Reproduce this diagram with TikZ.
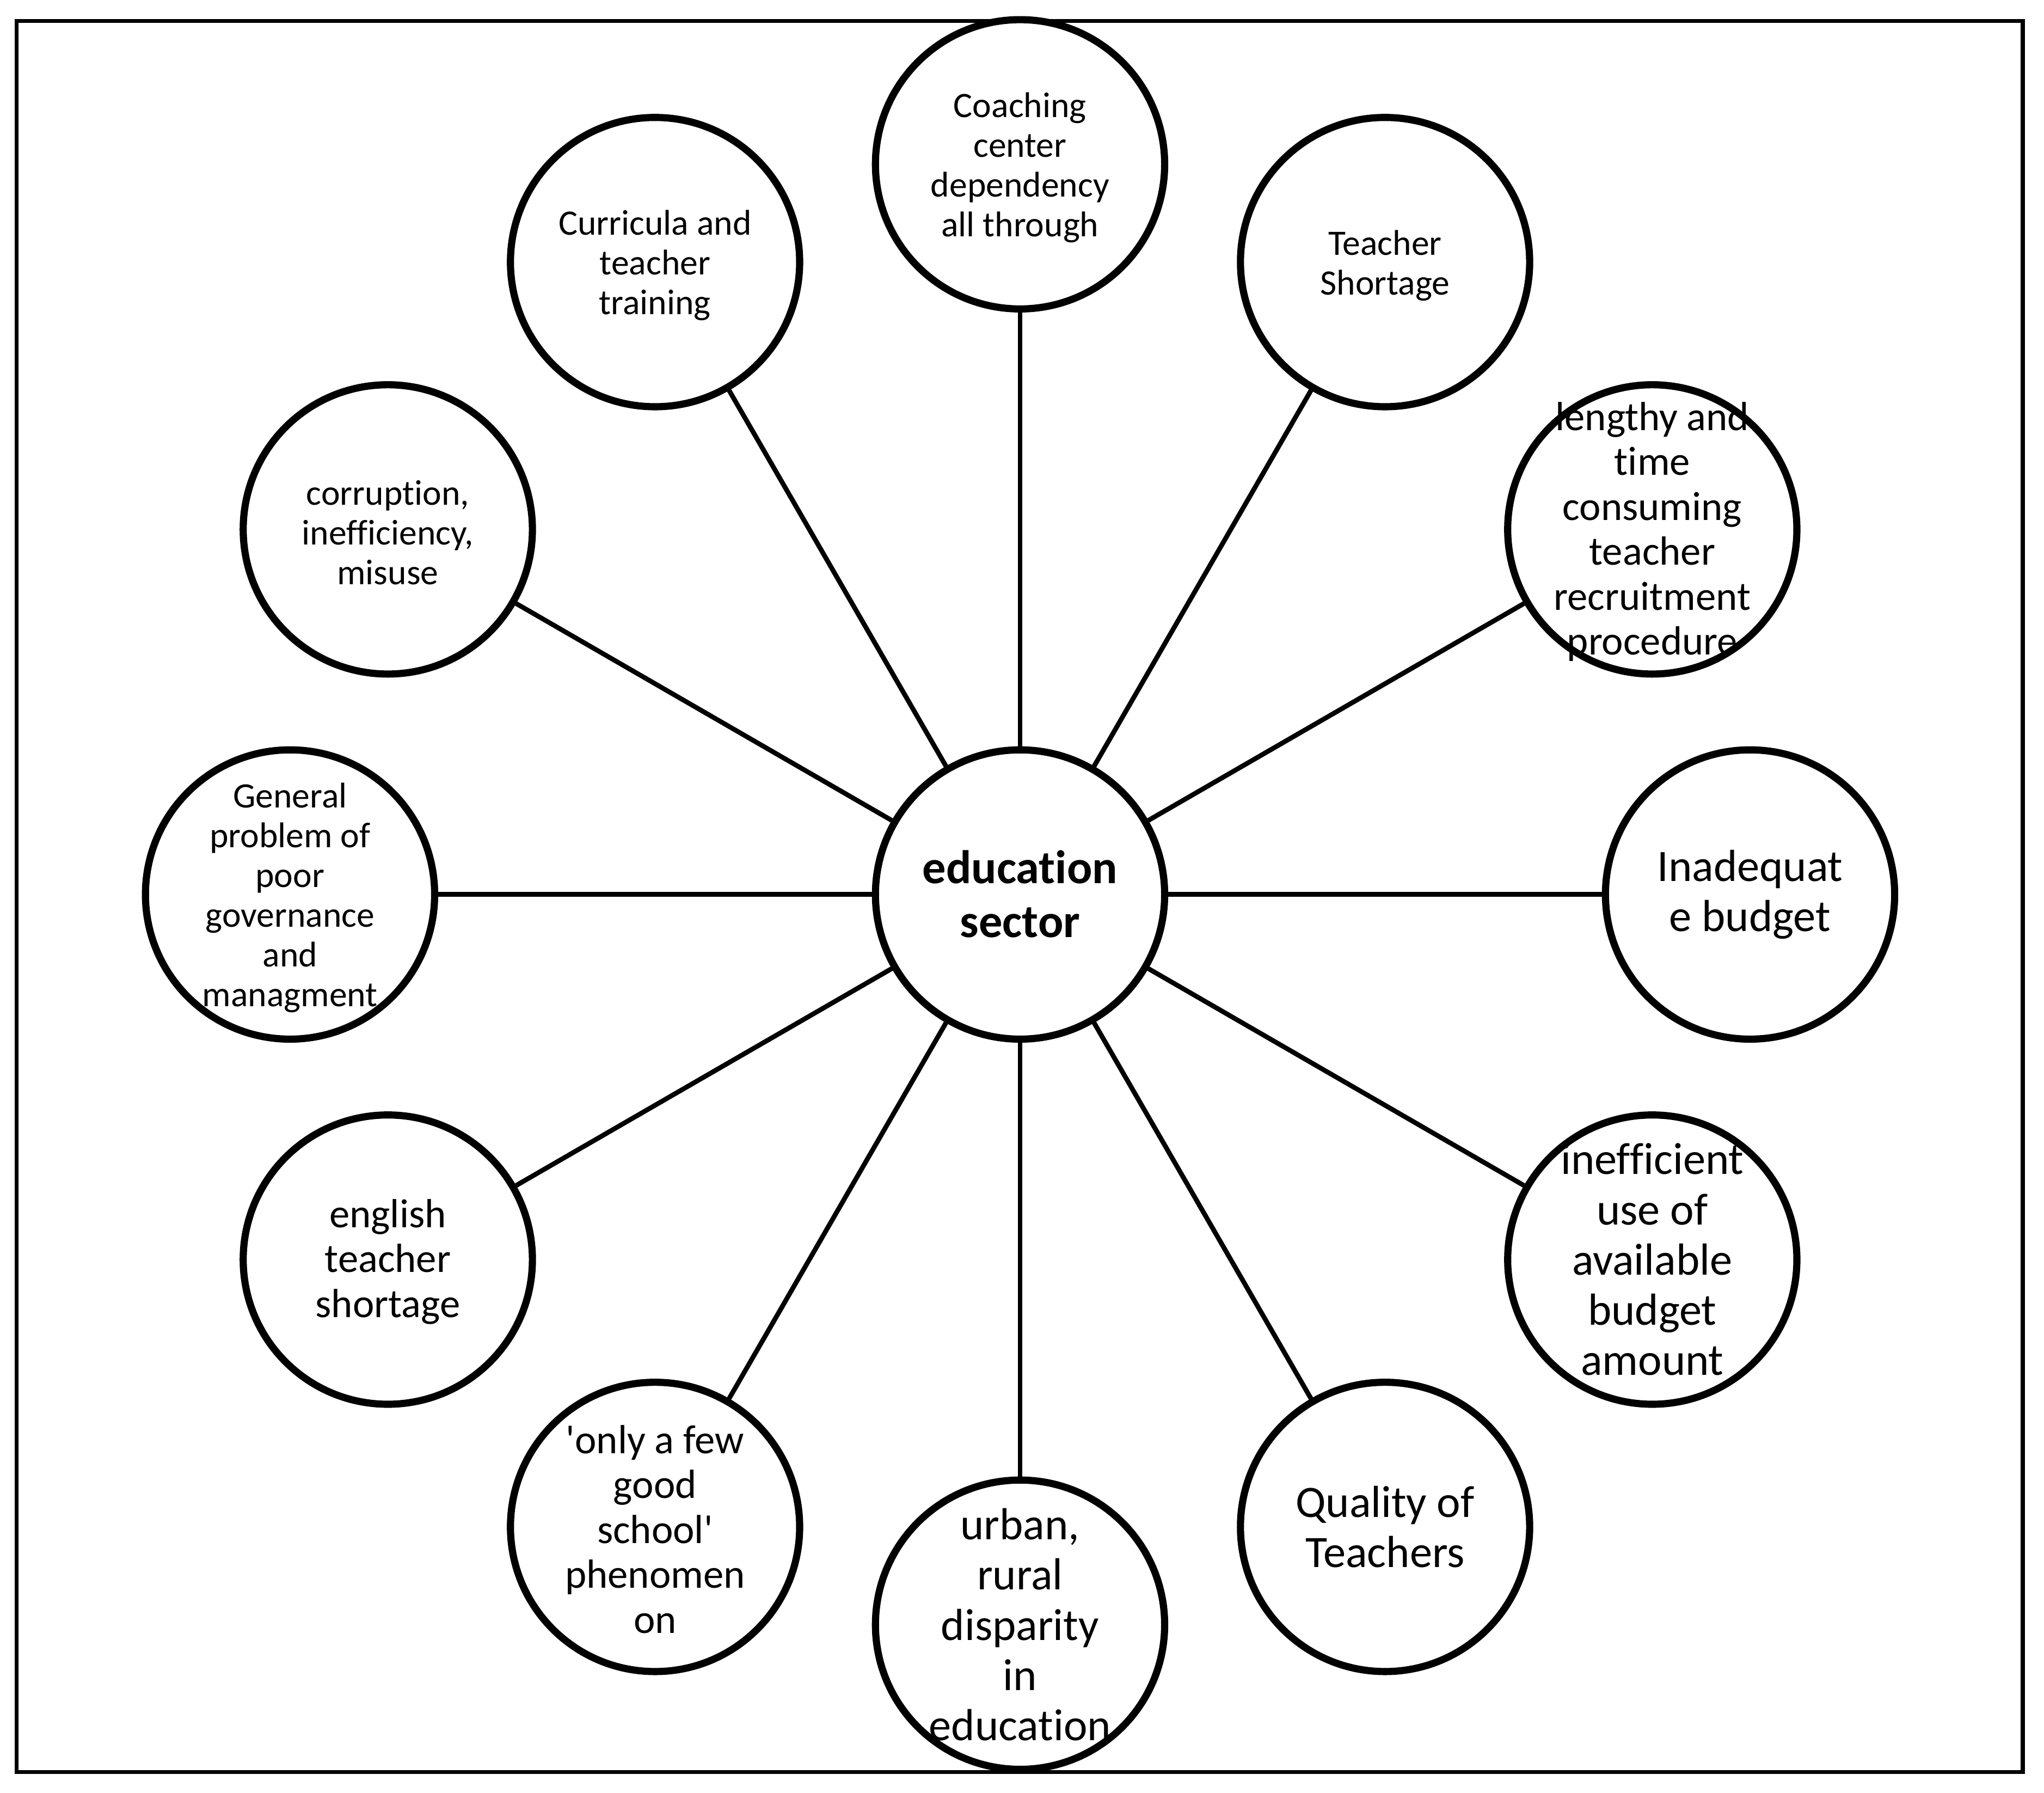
\documentclass[tikz,border=0pt]{standalone}
\usepackage{fontspec}
\setmainfont{Carlito}[Ligatures={TeXOff,NoCommon}]
\begin{document}
\begin{tikzpicture}[x=0.025cm,y=-0.025cm,
  bubble/.style={circle,draw=black,line width=3.9pt,minimum size=5.545cm,inner sep=0pt},
  spoke/.style={draw=black,line width=2.6pt},
  txt/.style={align=center,inner sep=0pt},
  fs/.style={font=\fontsize{19.5}{21.7}\selectfont,yshift=-1.8pt},
  fm/.style={font=\fontsize{22.2}{24.5}\selectfont,yshift=-1.2pt},
  fl/.style={font=\fontsize{24.5}{27.4}\selectfont,yshift=0pt},
  fc/.style={font=\fontsize{25.7}{29.2}\selectfont\bfseries,yshift=0.3pt}]
\useasboundingbox (0,0) rectangle (1568,1375);
\draw[line width=2.1pt] (12.8,16) rectangle (1551.7,1358.8);

\node[bubble] (c0) at (782.5,686) {};
\node[bubble] (c1) at (782.5,126) {};
\node[bubble] (c2) at (1062.5,201) {};
\node[bubble] (c3) at (1267.5,406) {};
\node[bubble] (c4) at (1342.5,686) {};
\node[bubble] (c5) at (1267.5,966) {};
\node[bubble] (c6) at (1062.5,1171) {};
\node[bubble] (c7) at (782.5,1246) {};
\node[bubble] (c8) at (502.5,1171) {};
\node[bubble] (c9) at (297.5,966) {};
\node[bubble] (c10) at (222.5,686) {};
\node[bubble] (c11) at (297.5,406) {};
\node[bubble] (c12) at (502.5,201) {};

\foreach \i in {1,...,12} {\path[spoke] (c0) -- (c\i);}

\node[txt,fc] (t0) at (c0.center) {education\\sector};
\node[txt,fs] (t1) at (c1.center) {Coaching\\center\\dependency\\all through};
\node[txt,fs] (t2) at (c2.center) {Teacher\\Shortage};
\node[txt,fm] (t3) at (c3.center) {lengthy and\\time\\consuming\\teacher\\recruitment\\procedure};
\node[txt,fl] (t4) at (c4.center) {Inadequat\\e budget};
\node[txt,fl] (t5) at (c5.center) {inefficient\\use of\\available\\budget\\amount};
\node[txt,fl] (t6) at (c6.center) {Quality of\\Teachers};
\node[txt,fl] (t7) at (c7.center) {urban,\\rural\\disparity\\in\\education};
\node[txt,fm] (t8) at (c8.center) {'only a few\\good\\school'\\phenomen\\on};
\node[txt,fm] (t9) at (c9.center) {english\\teacher\\shortage};
\node[txt,fs] (t10) at (c10.center) {General\\problem of\\poor\\governance\\and\\managment};
\node[txt,fs] (t11) at (c11.center) {corruption,\\inefficiency,\\misuse};
\node[txt,fs] (t12) at (c12.center) {Curricula and\\teacher\\training};
\end{tikzpicture}
\end{document}
